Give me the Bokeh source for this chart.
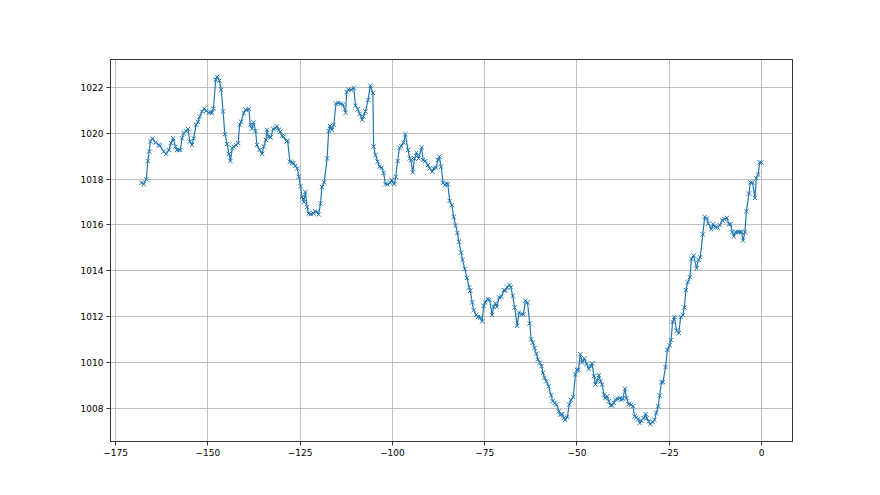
from bokeh.plotting import figure
from bokeh.models import Range1d, FixedTicker
from bokeh.embed import file_html
from bokeh.resources import INLINE

hours = [-168.0, -167.4, -166.7, -166.3, -165.9, -165.6, -165.0, -164.2, -163.3, -163.0,
         -162.0, -161.3, -160.6, -160.0, -159.4, -158.8, -158.4, -157.9, -157.5, -157.0,
         -156.6, -155.9, -155.4, -154.9, -154.3, -153.9, -153.2, -152.7, -152.2, -151.6,
         -151.0, -150.5, -149.8, -149.3, -148.9, -148.5, -147.9, -147.5, -146.9, -146.4,
         -145.9, -145.4, -144.8, -144.3, -143.9, -143.4, -143.0, -142.4, -141.8, -141.4,
         -141.0, -140.3, -139.8, -138.9, -138.5, -138.1, -137.6, -137.1, -136.7, -136.0,
         -135.3, -134.9, -134.3, -134.0, -133.6, -133.0, -132.3, -131.7, -131.3, -130.8,
         -130.4, -129.9, -129.5, -128.7, -128.4, -127.8, -127.2, -126.8, -126.3, -125.8,
         -125.4, -124.9, -124.5, -124.0, -123.6, -123.1, -122.7, -122.1, -121.4, -121.0,
         -120.5, -120.0, -119.5, -119.1, -118.5, -117.7, -117.3, -116.9, -116.4, -115.9,
         -115.3, -114.7, -114.0, -113.4, -112.7, -112.4, -111.9, -111.2, -110.5, -110.0,
         -109.4, -108.9, -108.2, -107.9, -107.3, -106.6, -106.0, -105.3, -105.1, -104.6,
         -104.0, -103.5, -102.9, -102.4, -101.9, -101.3, -100.6, -100.2, -99.5, -99.1,
         -98.6, -98.1, -97.6, -97.0, -96.5, -95.8, -95.3, -95.0, -94.5, -94.0,
         -93.5, -92.9, -92.1, -91.7, -91.1, -90.4, -89.9, -89.2, -88.8, -88.2,
         -87.7, -87.3, -86.8, -86.3, -85.8, -85.4, -85.0, -84.5, -83.9, -83.4,
         -82.9, -82.4, -82.0, -81.4, -81.0, -80.4, -79.8, -79.2, -78.9, -78.4,
         -78.0, -77.3, -76.8, -76.2, -75.7, -75.3, -74.9, -74.2, -73.7, -73.0,
         -72.6, -72.1, -71.7, -71.1, -70.5, -69.8, -69.4, -69.0, -68.3, -67.9,
         -67.4, -66.9, -66.2, -65.7, -65.0, -64.5, -64.0, -63.4, -62.8, -62.4,
         -62.0, -61.5, -61.0, -60.6, -60.1, -59.6, -59.2, -58.8, -58.3, -57.7,
         -57.0, -56.6, -56.0, -55.6, -54.9, -54.5, -54.0, -53.6, -53.2, -52.6,
         -52.1, -51.6, -51.0, -50.4, -50.0, -49.6, -49.1, -48.6, -48.0, -47.4,
         -46.8, -46.3, -45.9, -45.4, -45.0, -44.5, -44.1, -43.6, -43.2, -42.7,
         -42.3, -41.8, -41.4, -40.9, -40.5, -40.0, -39.6, -39.0, -38.4, -38.0,
         -37.6, -37.0, -36.6, -36.0, -35.3, -34.8, -34.4, -33.9, -33.4, -33.0,
         -32.6, -31.9, -31.4, -31.1, -30.6, -30.1, -29.5, -29.0, -28.5, -28.0,
         -27.6, -27.1, -26.7, -26.0, -25.5, -24.9, -24.5, -24.1, -23.6, -23.0,
         -22.4, -21.9, -21.3, -20.9, -20.5, -20.0, -19.4, -19.0, -18.4, -17.6,
         -17.1, -16.6, -15.9, -15.4, -14.8, -14.4, -13.6, -13.1, -12.5, -11.9,
         -11.3, -10.6, -10.0, -9.4, -8.8, -8.4, -7.9, -7.5, -7.0, -6.4,
         -5.9, -5.4, -5.0, -4.5, -4.1, -3.4, -3.0, -2.4, -1.8, -1.4,
         -0.9, -0.5, 0.0]

pressure = [1017.84, 1017.78, 1017.99, 1018.79, 1019.20, 1019.64, 1019.78, 1019.59, 1019.49, 1019.46,
            1019.20, 1019.10, 1019.27, 1019.57, 1019.78, 1019.42, 1019.27, 1019.27, 1019.27, 1019.78,
            1020.00, 1020.10, 1020.19, 1019.64, 1019.49, 1019.78, 1020.37, 1020.50, 1020.73, 1020.95,
            1021.07, 1020.98, 1020.90, 1020.90, 1020.90, 1021.07, 1022.34, 1022.46, 1022.30, 1021.90,
            1020.95, 1019.96, 1019.53, 1019.10, 1018.79, 1019.35, 1019.42, 1019.49, 1019.57, 1020.37,
            1020.50, 1020.88, 1021.03, 1021.05, 1020.37, 1020.20, 1020.47, 1020.10, 1019.49, 1019.27,
            1019.10, 1019.42, 1019.71, 1020.15, 1019.85, 1019.82, 1020.19, 1020.22, 1020.30, 1020.15,
            1020.07, 1019.89, 1019.85, 1019.64, 1019.68, 1018.76, 1018.72, 1018.69, 1018.57, 1018.47,
            1018.10, 1017.69, 1017.22, 1017.00, 1017.44, 1016.78, 1016.50, 1016.47, 1016.50, 1016.60,
            1016.57, 1016.46, 1016.93, 1017.66, 1017.86, 1018.90, 1020.10, 1020.32, 1020.15, 1020.37,
            1021.29, 1021.32, 1021.29, 1021.25, 1020.90, 1021.80, 1021.90, 1021.90, 1021.98, 1021.20,
            1021.05, 1020.85, 1020.59, 1020.73, 1020.95, 1021.46, 1022.08, 1021.76, 1019.42, 1019.05,
            1018.76, 1018.54, 1018.50, 1018.27, 1017.78, 1017.77, 1017.84, 1017.96, 1017.78, 1018.10,
            1018.79, 1019.37, 1019.44, 1019.59, 1019.96, 1019.27, 1018.90, 1018.83, 1018.29, 1018.90,
            1019.15, 1018.90, 1019.39, 1018.83, 1018.79, 1018.61, 1018.47, 1018.32, 1018.47, 1018.50,
            1018.83, 1018.98, 1018.54, 1017.84, 1017.74, 1017.81, 1017.78, 1017.05, 1016.86, 1016.35,
            1015.98, 1015.65, 1015.27, 1014.79, 1014.48, 1014.08, 1013.69, 1013.28, 1013.13, 1012.62,
            1012.28, 1012.08, 1011.99, 1011.96, 1011.79, 1012.47, 1012.62, 1012.77, 1012.73, 1012.08,
            1012.43, 1012.58, 1012.43, 1012.84, 1012.87, 1013.16, 1013.13, 1013.28, 1013.38, 1013.28,
            1012.90, 1012.40, 1011.60, 1012.18, 1012.10, 1012.10, 1012.69, 1012.62, 1011.70, 1011.01,
            1010.86, 1010.64, 1010.38, 1010.13, 1009.99, 1009.84, 1009.55, 1009.33, 1009.18, 1008.96,
            1008.57, 1008.31, 1008.24, 1008.17, 1007.87, 1007.72, 1007.75, 1007.57, 1007.50, 1007.62,
            1008.16, 1008.36, 1008.50, 1009.48, 1009.68, 1009.68, 1010.36, 1010.00, 1010.18, 1009.93,
            1009.72, 1009.84, 1009.96, 1009.40, 1009.04, 1009.22, 1009.45, 1009.18, 1009.04, 1008.60,
            1008.45, 1008.52, 1008.31, 1008.13, 1008.13, 1008.24, 1008.38, 1008.41, 1008.45, 1008.38,
            1008.41, 1008.86, 1008.45, 1008.18, 1008.16, 1008.09, 1007.65, 1007.60, 1007.53, 1007.36,
            1007.46, 1007.57, 1007.75, 1007.57, 1007.43, 1007.31, 1007.40, 1007.50, 1007.80, 1008.09,
            1008.56, 1009.14, 1009.14, 1009.80, 1010.55, 1010.75, 1010.97, 1011.77, 1011.99, 1011.38,
            1011.29, 1011.98, 1012.08, 1012.40, 1013.16, 1013.50, 1013.72, 1014.52, 1014.67, 1014.11,
            1014.48, 1014.59, 1015.59, 1016.35, 1016.28, 1016.06, 1015.81, 1016.03, 1015.89, 1015.89,
            1015.99, 1016.20, 1016.25, 1016.31, 1016.03, 1016.03, 1015.69, 1015.50, 1015.69, 1015.69,
            1015.69, 1015.69, 1015.32, 1015.69, 1016.60, 1017.37, 1017.85, 1017.85, 1017.18, 1018.04,
            1018.20, 1018.73, 1018.72]

x_ticks = [-175, -150, -125, -100, -75, -50, -25, 0]
x_tick_labels = ["\u2212175", "\u2212150", "\u2212125", "\u2212100", "\u221275", "\u221250", "\u221225", "0"]
y_ticks = [1008, 1010, 1012, 1014, 1016, 1018, 1020, 1022]

xmin, xmax = min(hours), max(hours)
ymin, ymax = min(pressure), max(pressure)
xpad = 0.05 * (xmax - xmin)
ypad = 0.05 * (ymax - ymin)

p = figure(width=864, height=479, output_backend="svg", toolbar_location=None,
           x_range=Range1d(xmin - xpad, xmax + xpad),
           y_range=Range1d(ymin - ypad, ymax + ypad),
           min_border_left=110, min_border_right=72, min_border_top=59, min_border_bottom=38)

p.background_fill_color = "white"
p.border_fill_color = "white"
p.outline_line_color = "#333333"
p.outline_line_width = 1

p.line(hours, pressure, line_color="#1f77b4", line_width=1.2)
p.scatter(hours, pressure, marker="x", size=6, line_color="#1f77b4", line_width=1)

for ax in (p.xaxis[0], p.yaxis[0]):
    ax.axis_line_color = "#333333"
    ax.major_tick_line_color = "#333333"
    ax.major_tick_out = 4
    ax.major_tick_in = 0
    ax.minor_tick_line_color = None
    ax.major_label_text_font = "DejaVu Sans"
    ax.major_label_text_font_size = "9px"
    ax.major_label_text_color = "#000000"
    ax.major_label_standoff = 3

p.xaxis[0].ticker = FixedTicker(ticks=x_ticks)
p.xaxis[0].major_label_overrides = {t: l for t, l in zip(x_ticks, x_tick_labels)}
p.yaxis[0].ticker = FixedTicker(ticks=y_ticks)

for g in (p.xgrid[0], p.ygrid[0]):
    g.grid_line_color = "#b0b0b0"
    g.grid_line_width = 0.8

open("out.html", "w").write(file_html(p, INLINE))
